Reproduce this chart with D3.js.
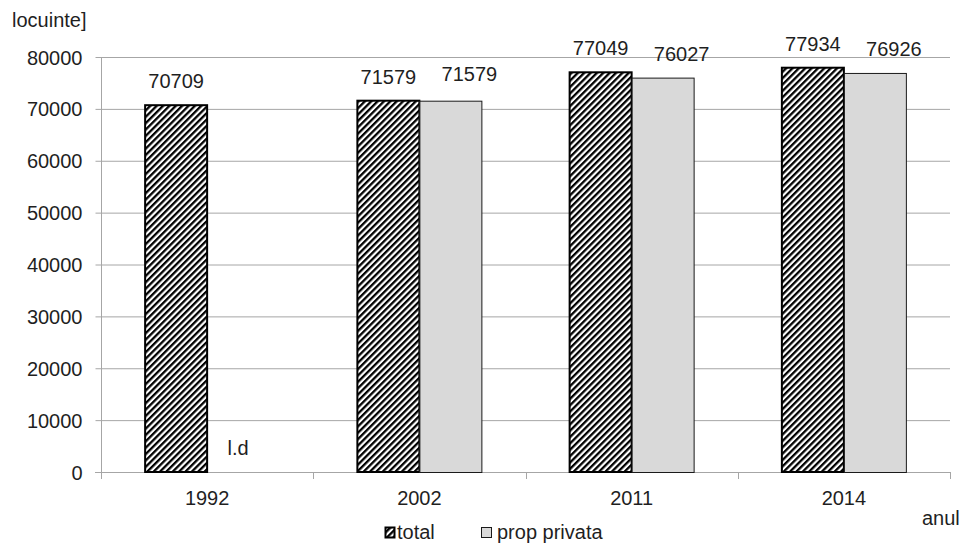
<!DOCTYPE html>
<html><head><meta charset="utf-8">
<script src="https://cdn.jsdelivr.net/npm/d3@7"></script>
<style>body{margin:0;background:#fff}svg{display:block}text{font-family:"Liberation Sans",Arial,sans-serif;fill:#1f1f1f}</style>
</head><body><svg id="c" width="961" height="544"></svg>
<script>
const categories = ["1992","2002","2011","2014"];
const totalValues = [70709, 71579, 77049, 77934];
const privateValues = [null, 71579, 76027, 76926];
const yTicks = [0,10000,20000,30000,40000,50000,60000,70000,80000];
const seriesNames = ["total","prop privata"];

const FS = 20;
const svg = d3.select("#c");
const defs = svg.append("defs");
const pat = defs.append("pattern").attr("id","hatch").attr("patternUnits","userSpaceOnUse")
  .attr("width",4.5).attr("height",4.5).attr("patternTransform","rotate(45)");
pat.append("rect").attr("width",4.5).attr("height",4.5).attr("fill","#fff");
pat.append("rect").attr("x",0).attr("width",2.3).attr("height",4.5).attr("fill","#000");

const x0 = d3.scaleBand().domain(categories).range([101,950]).paddingInner(0).paddingOuter(0);
const bw = 62;
const y = d3.scaleLinear().domain([0,80000]).range([472,57]);

// gridlines
svg.append("g").selectAll("line").data(yTicks.filter(d=>d>0)).join("line")
  .attr("x1",101).attr("x2",950).attr("y1",d=>y(d)+0.5).attr("y2",d=>y(d)+0.5)
  .attr("stroke","#a6a6a6").attr("stroke-width",1);

// y axis
const ya = svg.append("g").attr("transform","translate(101.5,0)")
  .call(d3.axisLeft(y).tickValues(yTicks).tickSize(6).tickPadding(13).tickFormat(d3.format("d")));
ya.select(".domain").attr("stroke","#a6a6a6").attr("d","M0,57V472.5");
ya.selectAll(".tick line").attr("stroke","#a6a6a6");
ya.selectAll("text").attr("font-size",FS).attr("font-family","Liberation Sans, Arial").attr("fill","#1f1f1f").attr("dy","0.35em");

// x axis
const xa = svg.append("g").attr("transform","translate(0,472.5)")
  .call(d3.axisBottom(x0).tickSize(0).tickPadding(0));
xa.select(".domain").attr("stroke","#a6a6a6").attr("d","M95,0H950");
xa.selectAll("text").attr("font-size",FS).attr("font-family","Liberation Sans, Arial").attr("fill","#1f1f1f").attr("dy",null).attr("y",32);
svg.append("g").selectAll("line").data([0,1,2,3,4]).join("line")
  .attr("x1",i=>Math.round(101+i*x0.bandwidth())+0.5).attr("x2",i=>Math.round(101+i*x0.bandwidth())+0.5)
  .attr("y1",472).attr("y2",479).attr("stroke","#a6a6a6");

// bars
const g = svg.append("g");
categories.forEach((c,i)=>{
  const cx = x0(c)+x0.bandwidth()/2;
  const tv = totalValues[i];
  g.append("rect").attr("x",cx-bw).attr("y",y(tv)).attr("width",bw).attr("height",y(0)-y(tv))
    .attr("fill","url(#hatch)").attr("stroke","#000").attr("stroke-width",2);
  g.append("text").attr("x",cx-bw/2).attr("y",y(tv)-17).attr("text-anchor","middle").attr("font-size",FS).text(tv);
  const pv = privateValues[i];
  if(pv!=null){
    g.append("rect").attr("x",cx+0.5).attr("y",y(pv)+0.5).attr("width",bw).attr("height",y(0)-y(pv))
      .attr("fill","#d9d9d9").attr("stroke","#1a1a1a").attr("stroke-width",1);
    const crowded = Math.abs(y(pv)-y(tv)) < 3;
    g.append("text").attr("x",cx+bw/2+19).attr("y",y(pv)-(crowded?20:17))
      .attr("text-anchor","middle").attr("font-size",FS).text(pv);
  } else {
    g.append("text").attr("x",cx+bw/2).attr("y",455).attr("text-anchor","middle").attr("font-size",FS).text("l.d");
  }
});

// titles
svg.append("text").attr("x",12).attr("y",27).attr("font-size",FS).text("locuinte]");
svg.append("text").attr("x",922).attr("y",525).attr("font-size",FS).text("anul");

// legend
const lg = svg.append("g");
lg.append("rect").attr("x",385.5).attr("y",527.5).attr("width",9).attr("height",10).attr("fill","url(#hatch)").attr("stroke","#000").attr("stroke-width",2);
lg.append("text").attr("x",397).attr("y",539).attr("font-size",FS).text(seriesNames[0]);
lg.append("rect").attr("x",481.5).attr("y",527.5).attr("width",10).attr("height",10).attr("fill","#d9d9d9").attr("stroke","#1a1a1a").attr("stroke-width",1);
lg.append("text").attr("x",497).attr("y",539).attr("font-size",FS).text(seriesNames[1]);
</script></body></html>
